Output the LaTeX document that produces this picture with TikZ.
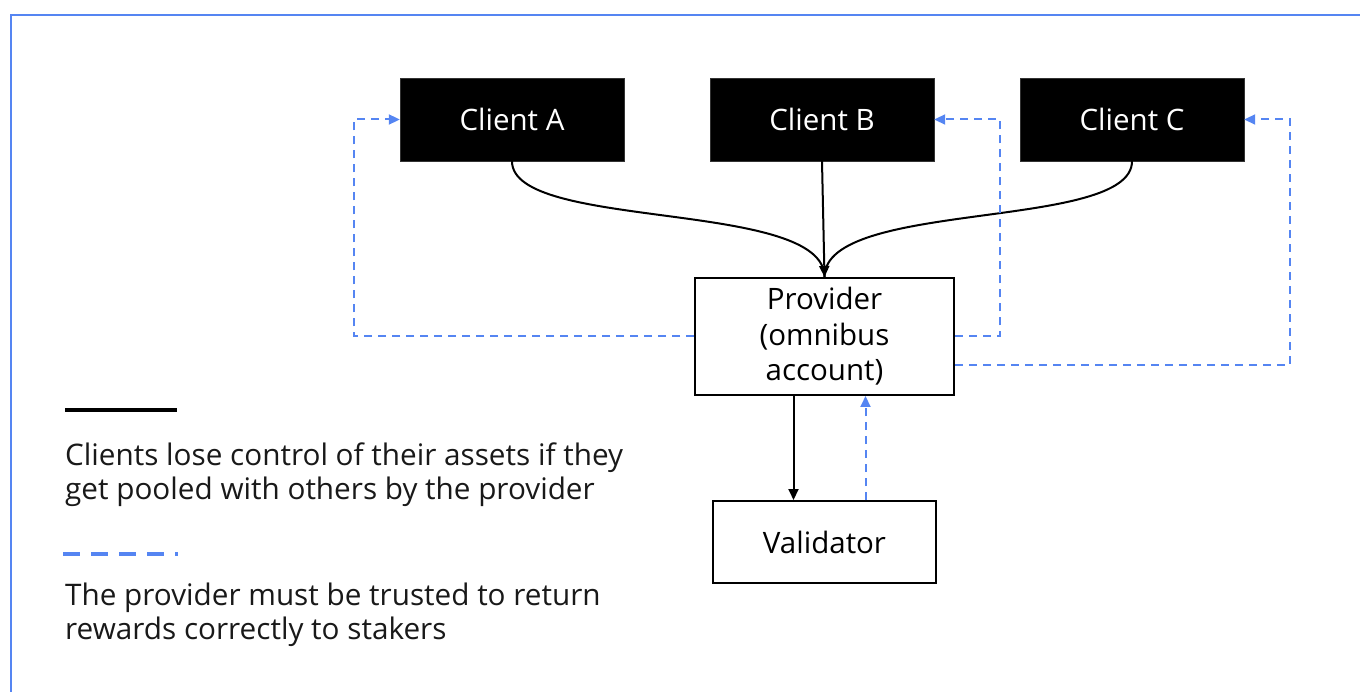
\documentclass[tikz,border=0pt]{standalone}
\usepackage{fontspec}
\setmainfont{Open Sans}
\usetikzlibrary{arrows.meta,calc}
\definecolor{fblue}{HTML}{5585F2}
\tikzset{
  client/.style={draw=black!80, fill=black, text=white, minimum width=224pt, minimum height=83pt, inner sep=0pt, font=\fontsize{29.5}{34}\selectfont},
  plainbox/.style={draw=black, line width=2pt, fill=white, inner sep=0pt, align=center, font=\fontsize{29.5}{35.5}\selectfont},
  solidarrow/.style={draw=black, line width=2pt, -{Triangle[length=11pt,width=10pt]}},
  solidline/.style={draw=black, line width=2pt},
  bluearrow/.style={draw=fblue, line width=2pt, dash pattern=on 8pt off 6pt, -{Triangle[length=11pt,width=10pt]}},
  legtext/.style={anchor=base west, align=left, inner sep=0pt, font=\fontsize{29.7}{34}\selectfont, text=black!90},
}
\begin{document}
\begin{tikzpicture}[x=1pt,y=-1pt]
\useasboundingbox (0,0) rectangle (1360,692);
\draw[fblue, line width=2.2pt] (11,700) -- (11,15) -- (1370,15);

\node[client] (ca) at (512,119.5) {Client A};
\node[client] (cb) at (822,119.5) {Client B};
\node[client] (cc) at (1132,119.5) {Client C};
\node[plainbox, minimum width=259pt, minimum height=117pt] (prov) at (824.5,336.5) {Provider\\(omnibus\\account)};
\node[plainbox, minimum width=223pt, minimum height=82pt] (val) at (824.5,542) {Validator};

% solid connectors
\draw[solidline] (ca.south) .. controls ($(ca.south)+(0,70)$) and ($(prov.north)+(0,-78)$) .. (prov.north);
\draw[solidline] (cc.south) .. controls ($(cc.south)+(0,70)$) and ($(prov.north)+(0,-78)$) .. (prov.north);
\draw[solidarrow] (cb.south) -- (prov.north);
\draw[solidarrow] ($(prov.south)+(-31,0)$) -- ($(val.north)+(-31,0)$);

% blue dashed connectors
\draw[bluearrow] ($(val.north)+(41,0)$) -- ($(prov.south)+(41,0)$);
\coordinate (pa) at (prov.west);
\draw[bluearrow] (pa) -- (354,336.5) -- (354,119.5) -- (ca.west);
\coordinate (pb) at (prov.east);
\draw[bluearrow] (pb) -- (1000,336.5) -- (1000,119.5) -- (cb.east);
\coordinate (pc) at ($(prov.east)+(0,28.5)$);
\draw[bluearrow] (pc) -- (1290,365) -- (1290,119.5) -- (cc.east);

% legend
\coordinate (l1a) at (65,410);
\coordinate (l1b) at (177,410);
\draw[black, line width=3.4pt] (l1a) -- (l1b);
\node[legtext] (t1) at (65,499) {Clients lose control of their assets if they\\get pooled with others by the provider};
\coordinate (l2a) at (63,554);
\coordinate (l2b) at (178,554);
\draw[fblue, line width=3.4pt, dash pattern=on 17pt off 11pt] (l2a) -- (l2b);
\node[legtext] (t2) at (65,639) {The provider must be trusted to return\\rewards correctly to stakers};
\end{tikzpicture}
\end{document}
